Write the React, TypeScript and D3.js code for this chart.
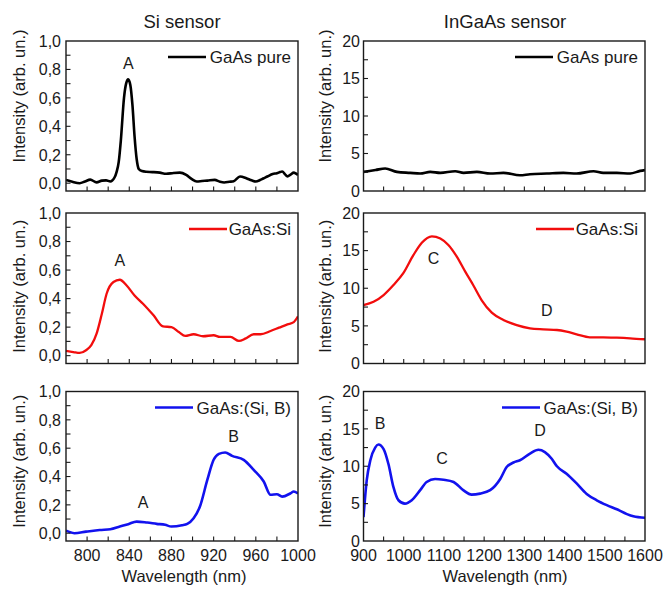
import { scaleLinear, line, curveMonotoneX, range, format } from "d3";

// Si sensor (left column), wavelength nm -> intensity
const siPure: [number, number][] = [
  [780, 0.023], [786, 0.01], [793, 0.0], [798, 0.012], [803, 0.025], [809, 0.006],
  [814, 0.018], [818, 0.02], [822, 0.012], [826, 0.04], [828, 0.08], [830, 0.15],
  [832, 0.3], [835, 0.6], [837, 0.7], [839, 0.73], [841, 0.69], [843, 0.55],
  [845, 0.33], [847, 0.17], [849, 0.1], [852, 0.085], [856, 0.08], [862, 0.078],
  [869, 0.074], [875, 0.066], [882, 0.072], [888, 0.074], [894, 0.058], [899, 0.03],
  [904, 0.012], [909, 0.015], [914, 0.018], [921, 0.023], [926, 0.01], [930, 0.005],
  [935, 0.01], [939, 0.014], [945, 0.047], [951, 0.035], [956, 0.02], [960, 0.012],
  [964, 0.022], [967, 0.033], [971, 0.047], [976, 0.065], [980, 0.07], [983, 0.078],
  [985, 0.082], [988, 0.06], [990, 0.048], [993, 0.06], [996, 0.074], [998, 0.068],
  [1000, 0.058],
];
const siDoped: [number, number][] = [
  [780, 0.033], [787, 0.025], [793, 0.019], [799, 0.038], [804, 0.073], [809, 0.154],
  [814, 0.294], [818.5, 0.434], [825, 0.516], [831, 0.532], [837.5, 0.492], [845, 0.422],
  [853, 0.364], [863, 0.283], [872, 0.205], [880, 0.2], [887, 0.166], [893, 0.138],
  [901, 0.15], [910, 0.136], [920, 0.143], [926, 0.131], [936, 0.131], [944, 0.103],
  [950, 0.119], [958, 0.15], [964.5, 0.15], [974, 0.173], [982, 0.196], [990, 0.219],
  [996, 0.235], [1000, 0.275],
];
const siBoron: [number, number][] = [
  [780, 0.018], [788, 0.0], [799, 0.011], [812, 0.023], [822, 0.028], [831, 0.047],
  [839, 0.064], [847, 0.082], [857, 0.075], [866, 0.066], [874, 0.059], [880, 0.047],
  [890, 0.056], [895, 0.066], [901, 0.106], [907, 0.188], [914, 0.376], [920, 0.518],
  [925, 0.56], [931, 0.57], [937.5, 0.546], [948.5, 0.518], [958, 0.447], [967.5, 0.365],
  [974, 0.271], [980, 0.275], [985, 0.258], [993, 0.282], [996, 0.294], [1000, 0.28],
];

// InGaAs sensor (right column)
const ingaasPure: [number, number][] = [
  [900, 2.55], [930, 2.8], [954, 3.0], [983, 2.55], [1016, 2.42], [1041, 2.33],
  [1066, 2.55], [1091, 2.42], [1128, 2.64], [1149, 2.42], [1182, 2.55], [1215, 2.33],
  [1248, 2.42], [1289, 2.1], [1314, 2.24], [1356, 2.33], [1397, 2.42], [1430, 2.33],
  [1472, 2.64], [1496, 2.42], [1530, 2.42], [1563, 2.33], [1588, 2.68], [1600, 2.78],
];
const ingaasDoped: [number, number][] = [
  [900, 7.77], [925, 8.2], [950, 9.1], [974, 10.4], [999, 12.0], [1024, 14.4],
  [1045, 16.05], [1070, 16.9], [1091, 16.6], [1111, 15.75], [1132, 14.2], [1153, 12.2],
  [1173, 10.4], [1194, 8.4], [1219, 6.75], [1248, 5.78], [1281, 5.1], [1314, 4.68],
  [1347, 4.54], [1381, 4.45], [1405, 4.23], [1430, 3.88], [1463, 3.48], [1496, 3.48],
  [1530, 3.43], [1563, 3.35], [1600, 3.22],
];
const ingaasBoron: [number, number][] = [
  [900, 3.2], [908, 8.1], [917, 10.8], [929, 12.5], [937, 12.9], [950, 12.3],
  [962, 10.3], [974.5, 7.2], [987, 5.45], [1003, 5.0], [1020, 5.45], [1041, 6.8],
  [1057, 7.9], [1078, 8.3], [1099, 8.2], [1124, 7.9], [1148, 6.8], [1169, 6.2],
  [1190, 6.34], [1215, 6.8], [1240, 8.3], [1256, 9.9], [1273, 10.5], [1289, 10.8],
  [1314, 11.7], [1335, 12.2], [1351, 11.9], [1368, 11.0], [1381, 10.0], [1405, 9.0],
  [1430, 7.7], [1455, 6.3], [1480, 5.45], [1505, 4.8], [1530, 4.25], [1555, 3.6],
  [1571, 3.3], [1600, 3.1],
];

// peak labels: [text, wavelength, intensity]
const notesSiPure: [string, number, number][] = [["A", 839, 0.843]];
const notesSiDoped: [string, number, number][] = [["A", 831, 0.67]];
const notesSiBoron: [string, number, number][] = [["A", 853, 0.222], ["B", 939, 0.681]];
const notesInDoped: [string, number, number][] = [["C", 1074, 13.98], ["D", 1356, 7.11]];
const notesInBoron: [string, number, number][] = [["B", 941, 15.75], ["C", 1095, 11.06], ["D", 1339, 14.85]];

const siXTicks = [800, 840, 880, 920, 960, 1000];
const siXMinor = range(800, 1000, 20);
const siYTicks = [0, 0.2, 0.4, 0.6, 0.8, 1.0];
const siYMinor = range(0, 1.0, 0.1);
const inXTicks = [900, 1000, 1100, 1200, 1300, 1400, 1500, 1600];
const inXMinor = range(950, 1600, 50);
const inYTicks = [0, 5, 10, 15, 20];
const inYMinor = range(2.5, 20, 2.5);

const font = "'Liberation Sans', Arial, sans-serif";
const ink = "#1a1a1a";
const fmtComma = (v) => format(".1f")(v).replace(".", ",");

const rows = [
  { top: 41, bottom: 191, labelShift: -20 },
  { top: 213, bottom: 363.5, labelShift: -2 },
  { top: 391.5, bottom: 541, labelShift: -5 },
];
const leftCol = { x0: 66, x1: 298 };
const rightCol = { x0: 363.5, x1: 645 };

const Panel = ({ col, row, xDomain, yDomain, data, color, width, legend, notes,
  xTicks, xMinor, yTicks, yMinor, yFmt, showX, labelGap, yLabelX }) => {
  const xScale = scaleLinear().domain(xDomain).range([col.x0, col.x1]);
  const yScale = scaleLinear().domain(yDomain).range([row.bottom, row.top]);
  const path = line()
    .x((d) => xScale(d[0]))
    .y((d) => yScale(d[1]))
    .curve(curveMonotoneX)(data);
  const midY = (row.top + row.bottom) / 2 + row.labelShift;
  const legY = row.top + 16;
  return (
    <g>
      <defs>
        <clipPath id={`clip-${col.x0}-${row.top}`}>
          <rect x={col.x0} y={row.top} width={col.x1 - col.x0} height={row.bottom - row.top} />
        </clipPath>
      </defs>
      <path d={path} fill="none" stroke={color} strokeWidth={width}
        strokeLinejoin="round" clipPath={`url(#clip-${col.x0}-${row.top})`} />
      {xMinor.map((t) => (
        <line key={"xt" + t} x1={xScale(t)} x2={xScale(t)} y1={row.bottom} y2={row.bottom - 4.5}
          stroke={ink} strokeWidth={1.1} />
      ))}
      {yMinor.map((t) => (
        <line key={"yt" + t} x1={col.x0} x2={col.x0 + 4.5} y1={yScale(t)} y2={yScale(t)}
          stroke={ink} strokeWidth={1.1} />
      ))}
      <rect x={col.x0} y={row.top} width={col.x1 - col.x0} height={row.bottom - row.top}
        fill="none" stroke={ink} strokeWidth={1.4} />
      {yTicks.map((t) => (
        <text key={"yl" + t} x={col.x0 - labelGap} y={yScale(t)} dy="0.36em" textAnchor="end"
          fontSize={16} fill={ink}>{yFmt(t)}</text>
      ))}
      {showX && xTicks.map((t) => (
        <text key={"xl" + t} x={xScale(t)} y={560.5} textAnchor="middle" fontSize={16} fill={ink}>
          {t}
        </text>
      ))}
      <text transform={`translate(${yLabelX},${midY}) rotate(-90)`} textAnchor="middle"
        fontSize={16.5} fill={ink}>Intensity (arb. un.)</text>
      <line x1={col.x1 - 7 - legend.w - 40} x2={col.x1 - 7 - legend.w - 2} y1={legY} y2={legY}
        stroke={color} strokeWidth={width} />
      <text x={col.x1 - 7} y={legY + 6} textAnchor="end" fontSize={17} fill={ink}>{legend.text}</text>
      {notes.map(([s, nm, v]) => (
        <text key={s} x={xScale(nm)} y={yScale(v)} dy="0.36em" textAnchor="middle" fontSize={16} fill={ink}>
          {s}
        </text>
      ))}
    </g>
  );
};

const App = () => {
  const siProps = {
    col: leftCol, xDomain: [780, 1000], yDomain: [-0.055, 1.0],
    xTicks: siXTicks, xMinor: siXMinor, yTicks: siYTicks, yMinor: siYMinor,
    yFmt: fmtComma, labelGap: 5, yLabelX: 25,
  };
  const inProps = {
    col: rightCol, xDomain: [900, 1600], yDomain: [0, 20],
    xTicks: inXTicks, xMinor: inXMinor, yTicks: inYTicks, yMinor: inYMinor,
    yFmt: (v) => String(v), labelGap: 3.5, yLabelX: 331,
  };
  return (
    <svg width={665} height={589} style={{ position: "absolute", left: 0, top: 0, background: "#fff" }}
      fontFamily={font}>
      <text x={182} y={28} textAnchor="middle" fontSize={18.5} fill={ink}>Si sensor</text>
      <text x={505} y={28} textAnchor="middle" fontSize={18.5} fill={ink}>InGaAs sensor</text>

      <Panel {...siProps} row={rows[0]} data={siPure} color="#000" width={2.6}
        legend={{ text: "GaAs pure", w: 83 }} notes={notesSiPure} showX={false} />
      <Panel {...siProps} row={rows[1]} data={siDoped} color="#f20d0d" width={2.3}
        legend={{ text: "GaAs:Si", w: 62 }} notes={notesSiDoped} showX={false} />
      <Panel {...siProps} row={rows[2]} data={siBoron} color="#1212ee" width={2.6}
        legend={{ text: "GaAs:(Si, B)", w: 96 }} notes={notesSiBoron} showX={true} />

      <Panel {...inProps} row={rows[0]} data={ingaasPure} color="#000" width={2.6}
        legend={{ text: "GaAs pure", w: 83 }} notes={[]} showX={false} />
      <Panel {...inProps} row={rows[1]} data={ingaasDoped} color="#f20d0d" width={2.3}
        legend={{ text: "GaAs:Si", w: 62 }} notes={notesInDoped} showX={false} />
      <Panel {...inProps} row={rows[2]} data={ingaasBoron} color="#1212ee" width={2.6}
        legend={{ text: "GaAs:(Si, B)", w: 96 }} notes={notesInBoron} showX={true} />

      <text x={184} y={582} textAnchor="middle" fontSize={16.5} fill={ink}>Wavelength (nm)</text>
      <text x={505} y={582} textAnchor="middle" fontSize={16.5} fill={ink}>Wavelength (nm)</text>
    </svg>
  );
};

export default App;
